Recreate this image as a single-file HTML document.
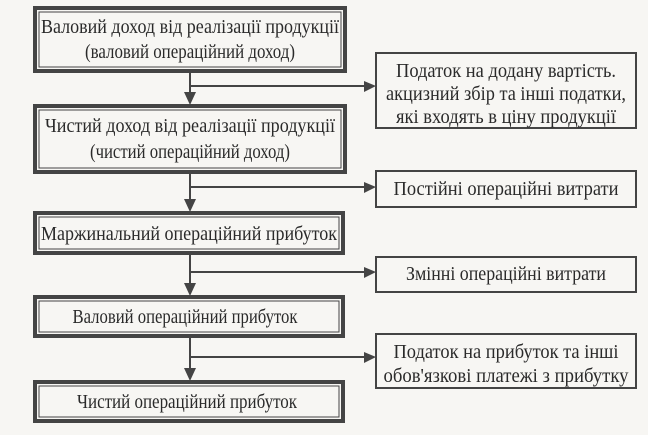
<!DOCTYPE html>
<html><head><meta charset="utf-8"><style>
html,body{margin:0;padding:0;background:#f7f6f3;}
svg{display:block;}
text{font-family:"Liberation Serif",serif;fill:#2a2a2a;font-size:20px;}
</style></head><body>
<svg width="648" height="435" viewBox="0 0 648 435" xmlns="http://www.w3.org/2000/svg">
<g fill="none" stroke="#444">
<rect x="35" y="8" width="310" height="63" stroke-width="4"/>
<rect x="39" y="12" width="302" height="55" stroke-width="1"/>
<rect x="35" y="106" width="310" height="66" stroke-width="4"/>
<rect x="39" y="110" width="302" height="58" stroke-width="1"/>
<rect x="35" y="213" width="308" height="40" stroke-width="4"/>
<rect x="39" y="217" width="300" height="32" stroke-width="1"/>
<rect x="35" y="297" width="308" height="39" stroke-width="4"/>
<rect x="39" y="301" width="300" height="31" stroke-width="1"/>
<rect x="35" y="382" width="308" height="39" stroke-width="4"/>
<rect x="39" y="386" width="300" height="31" stroke-width="1"/>
<rect x="376" y="53" width="260" height="75" stroke-width="2"/>
<rect x="376" y="171" width="260" height="36" stroke-width="2"/>
<rect x="376" y="257" width="260" height="35" stroke-width="2"/>
<rect x="376" y="334" width="260" height="54" stroke-width="2"/>
<line x1="190" y1="73" x2="190" y2="94" stroke-width="2"/>
<line x1="190" y1="174" x2="190" y2="200" stroke-width="2"/>
<line x1="190" y1="255" x2="190" y2="284" stroke-width="2"/>
<line x1="190" y1="338" x2="190" y2="369" stroke-width="2"/>
<line x1="190" y1="86" x2="366" y2="86" stroke-width="2"/>
<line x1="190" y1="187" x2="366" y2="187" stroke-width="2"/>
<line x1="190" y1="272" x2="366" y2="272" stroke-width="2"/>
<line x1="190" y1="357" x2="366" y2="357" stroke-width="2"/>
</g>
<g fill="#444">
<polygon points="184,92 196,92 190,105"/>
<polygon points="184,199 196,199 190,212"/>
<polygon points="184,283 196,283 190,296"/>
<polygon points="184,368 196,368 190,381"/>
<polygon points="364,81 364,92 376,86"/>
<polygon points="364,182 364,193 376,187"/>
<polygon points="364,267 364,278 376,272"/>
<polygon points="364,352 364,363 376,357"/>
</g>
<g text-anchor="middle">
<text x="190" y="33" textLength="298" lengthAdjust="spacingAndGlyphs">Валовий доход від реалізації продукції</text>
<text x="190" y="58" textLength="210" lengthAdjust="spacingAndGlyphs">(валовий операційний доход)</text>
<text x="190" y="132" textLength="290" lengthAdjust="spacingAndGlyphs">Чистий доход від реалізації продукції</text>
<text x="190" y="158" textLength="200" lengthAdjust="spacingAndGlyphs">(чистий операційний доход)</text>
<text x="189" y="240" textLength="296" lengthAdjust="spacingAndGlyphs">Маржинальний операційний прибуток</text>
<text x="185" y="323" textLength="225" lengthAdjust="spacingAndGlyphs">Валовий операційний прибуток</text>
<text x="187" y="408" textLength="220" lengthAdjust="spacingAndGlyphs">Чистий операційний прибуток</text>
<text x="506" y="77" textLength="220" lengthAdjust="spacingAndGlyphs">Податок на додану вартість.</text>
<text x="506" y="100" textLength="240" lengthAdjust="spacingAndGlyphs">акцизний збір та інші податки,</text>
<text x="506" y="123" textLength="220" lengthAdjust="spacingAndGlyphs">які входять в ціну продукції</text>
<text x="506" y="195" textLength="225" lengthAdjust="spacingAndGlyphs">Постійні операційні витрати</text>
<text x="506" y="280" textLength="200" lengthAdjust="spacingAndGlyphs">Змінні операційні витрати</text>
<text x="506" y="358" textLength="225" lengthAdjust="spacingAndGlyphs">Податок на прибуток та інші</text>
<text x="506" y="382" textLength="245" lengthAdjust="spacingAndGlyphs">обов'язкові платежі з прибутку</text>
</g>
</svg>
</body></html>
